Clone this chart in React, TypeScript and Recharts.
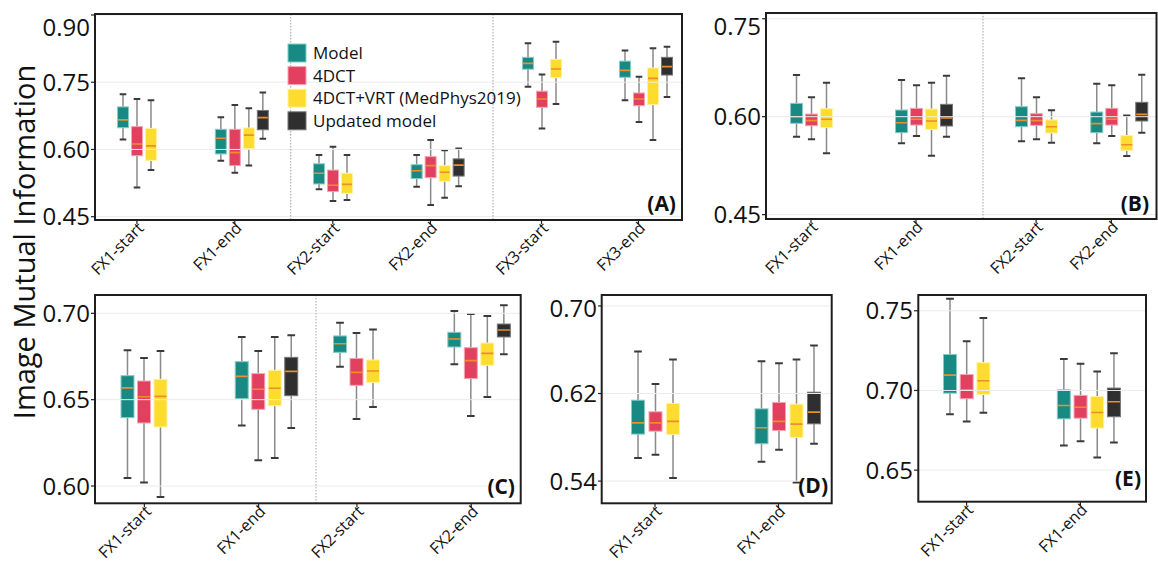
import React from 'react';
import { ComposedChart, Bar, XAxis, YAxis, ReferenceLine } from 'recharts';

type Box = [number, number, number, number, number] | null; // [min, q1, median, q3, max]

const SERIES = ['Model', '4DCT', '4DCT+VRT (MedPhys2019)', 'Updated model'];
const COLORS = ['#198a83', '#e2405f', '#fddc2f', '#2f2f2f'];
const EDGES = ['#86cbc4', '#f6a3b3', '#fff2a0', '#777777'];
const MEDIAN = '#ec8e2a';
const FONT = '"Open Sans", "Noto Sans", sans-serif';

// ---------- Panel A ----------
const A_CATS = ['FX1-start', 'FX1-end', 'FX2-start', 'FX2-end', 'FX3-start', 'FX3-end'];
const A_TICKS = [0.45, 0.6, 0.75, 0.9];
const A_MODEL: Box[] = [
  [0.622, 0.6485, 0.666, 0.695, 0.723],
  [0.575, 0.59, 0.625, 0.645, 0.672],
  [0.511, 0.523, 0.547, 0.568, 0.5875],
  [0.517, 0.535, 0.5525, 0.566, 0.5875],
  [0.74, 0.779, 0.792, 0.8055, 0.837],
  [0.71, 0.761, 0.7765, 0.797, 0.821],
];
const A_4DCT: Box[] = [
  [0.515, 0.586, 0.612, 0.651, 0.7125],
  [0.548, 0.564, 0.593, 0.645, 0.699],
  [0.485, 0.506, 0.52, 0.554, 0.606],
  [0.476, 0.537, 0.564, 0.584, 0.621],
  [0.647, 0.694, 0.7125, 0.73, 0.767],
  [0.661, 0.6976, 0.7125, 0.726, 0.7624],
];
const A_VRT: Box[] = [
  [0.554, 0.5756, 0.608, 0.647, 0.71],
  [0.564, 0.602, 0.632, 0.648, 0.692],
  [0.487, 0.502, 0.522, 0.547, 0.5875],
  [0.492, 0.529, 0.549, 0.5637, 0.598],
  [0.7013, 0.76, 0.7795, 0.801, 0.8405],
  [0.621, 0.7, 0.7586, 0.7817, 0.826],
];
const A_UPD: Box[] = [
  null,
  [0.624, 0.644, 0.671, 0.687, 0.727],
  null,
  [0.518, 0.5406, 0.565, 0.579, 0.6024],
  null,
  [0.717, 0.766, 0.7847, 0.8055, 0.829],
];

// ---------- Panel B ----------
const B_CATS = ['FX1-start', 'FX1-end', 'FX2-start', 'FX2-end'];
const B_TICKS = [0.45, 0.6, 0.75];
const B_MODEL: Box[] = [
  [0.5694, 0.5898, 0.6, 0.6204, 0.6638],
  [0.5592, 0.5755, 0.5908, 0.6102, 0.6561],
  [0.5622, 0.5847, 0.5944, 0.6153, 0.6587],
  [0.5592, 0.5755, 0.5893, 0.6071, 0.6505],
];
const B_4DCT: Box[] = [
  [0.5653, 0.5862, 0.5939, 0.604, 0.6296],
  [0.5704, 0.5872, 0.596, 0.6128, 0.648],
  [0.5653, 0.5867, 0.5939, 0.6046, 0.6296],
  [0.5704, 0.5872, 0.596, 0.6128, 0.648],
];
const B_VRT: Box[] = [
  [0.5439, 0.5832, 0.596, 0.6122, 0.652],
  [0.5403, 0.5806, 0.5934, 0.6117, 0.652],
  [0.56, 0.575, 0.5847, 0.595, 0.6097],
  [0.5398, 0.5485, 0.5571, 0.571, 0.602],
];
const B_UPD: Box[] = [
  null,
  [0.5694, 0.5857, 0.598, 0.6189, 0.6628],
  null,
  [0.5755, 0.5934, 0.6036, 0.622, 0.6643],
];

// ---------- Panel C ----------
const C_CATS = ['FX1-start', 'FX1-end', 'FX2-start', 'FX2-end'];
const C_TICKS = [0.6, 0.65, 0.7];
const C_MODEL: Box[] = [
  [0.6046, 0.6396, 0.6568, 0.6639, 0.6786],
  [0.6351, 0.6506, 0.6635, 0.672, 0.6863],
  [0.6691, 0.6774, 0.6824, 0.6869, 0.6946],
  [0.6705, 0.6805, 0.6851, 0.689, 0.7014],
];
const C_4DCT: Box[] = [
  [0.6021, 0.6365, 0.6517, 0.6608, 0.6741],
  [0.6149, 0.6444, 0.656, 0.6651, 0.6782],
  [0.6388, 0.6583, 0.6658, 0.6739, 0.6886],
  [0.6405, 0.6622, 0.6726, 0.6801, 0.6996],
];
const C_VRT: Box[] = [
  [0.5936, 0.6342, 0.6519, 0.6618, 0.6782],
  [0.6162, 0.6465, 0.6566, 0.667, 0.6863],
  [0.6458, 0.66, 0.6666, 0.673, 0.6907],
  [0.6515, 0.6699, 0.6768, 0.6828, 0.6985],
];
const C_UPD: Box[] = [
  null,
  [0.6336, 0.6523, 0.6664, 0.6745, 0.6873],
  null,
  [0.6763, 0.6863, 0.6903, 0.6938, 0.7046],
];

// ---------- Panel D ----------
const D_CATS = ['FX1-start', 'FX1-end'];
const D_TICKS = [0.54, 0.62, 0.7];
const D_MODEL: Box[] = [
  [0.561, 0.5829, 0.5932, 0.6139, 0.6583],
  [0.5577, 0.5741, 0.5887, 0.606, 0.6495],
];
const D_4DCT: Box[] = [
  [0.564, 0.5856, 0.5932, 0.6033, 0.6288],
  [0.5686, 0.5862, 0.5945, 0.6118, 0.6477],
];
const D_VRT: Box[] = [
  [0.5427, 0.5826, 0.5945, 0.6109, 0.651],
  [0.5388, 0.5799, 0.592, 0.6103, 0.651],
];
const D_UPD: Box[] = [null, [0.5741, 0.5923, 0.603, 0.6212, 0.6638]];

// ---------- Panel E ----------
const E_CATS = ['FX1-start', 'FX1-end'];
const E_TICKS = [0.65, 0.7, 0.75];
const E_MODEL: Box[] = [
  [0.6851, 0.6983, 0.7096, 0.7226, 0.7575],
  [0.6655, 0.6822, 0.6906, 0.7004, 0.7197],
];
const E_4DCT: Box[] = [
  [0.6805, 0.6948, 0.7004, 0.71, 0.7308],
  [0.6682, 0.6826, 0.6895, 0.6969, 0.7167],
];
const E_VRT: Box[] = [
  [0.686, 0.6975, 0.7061, 0.7174, 0.7454],
  [0.6579, 0.6764, 0.6862, 0.6962, 0.7119],
];
const E_UPD: Box[] = [null, [0.6674, 0.6835, 0.6929, 0.7015, 0.7234]];

function buildRows(cats: string[], series: Box[][]) {
  return cats.map((cat, ci) => {
    const row: any = { cat };
    series.forEach((arr, si) => {
      const b = arr[ci];
      row['k' + si] = b ? [b[0], b[4]] : null;
      row['b' + si] = b;
    });
    return row;
  });
}

function makeBoxShape(si: number) {
  return (props: any) => {
    const { x, y, width, height, payload } = props;
    const s: Box = payload ? payload['b' + si] : null;
    if (!s || height == null || isNaN(y)) return <g />;
    const top = Math.min(y, y + height);
    const bottom = Math.max(y, y + height);
    const [mn, q1, md, q3, mx] = s;
    const pv = (v: number) => bottom - ((v - mn) / (mx - mn)) * (bottom - top);
    const cx = x + width / 2;
    const cap = width * 0.55;
    return (
      <g>
        <line x1={cx} x2={cx} y1={pv(mx)} y2={pv(q3)} stroke="#8a8a8a" strokeWidth={1.5} />
        <line x1={cx} x2={cx} y1={pv(q1)} y2={pv(mn)} stroke="#8a8a8a" strokeWidth={1.5} />
        <line x1={cx - cap / 2} x2={cx + cap / 2} y1={pv(mx)} y2={pv(mx)} stroke="#3a3a3a" strokeWidth={2} />
        <line x1={cx - cap / 2} x2={cx + cap / 2} y1={pv(mn)} y2={pv(mn)} stroke="#3a3a3a" strokeWidth={2} />
        <rect x={x + 0.5} y={pv(q3)} width={width - 1} height={pv(q1) - pv(q3)} fill={COLORS[si]} stroke={EDGES[si]} strokeWidth={1} />
        <line x1={x + 1} x2={x + width - 1} y1={pv(md)} y2={pv(md)} stroke={MEDIAN} strokeWidth={1.6} />
      </g>
    );
  };
}

const SHAPES = [0, 1, 2, 3].map((i) => makeBoxShape(i));

function XTick(props: any) {
  const { x, y, payload, shift, fontSize } = props;
  return (
    <g transform={`translate(${x + shift},${y})`}>
      <line x1={0} y1={0} x2={0} y2={4} stroke="#222" strokeWidth={1.2} />
      <text transform="rotate(-45)" x={-1} y={12} textAnchor="end" fontSize={fontSize} fill="#111" fontFamily={FONT}>
        {payload.value}
      </text>
    </g>
  );
}

interface SegProps {
  x0: number;
  x1: number;
  top: number;
  plotH: number;
  yWidth: number;
  rows: any[];
  domain: [number, number];
  ticks: number[];
  padL: number;
  padR: number;
  barSize: number;
  barGap: number;
}

function Segment(p: SegProps) {
  const xH = 110;
  const plotW = p.x1 - p.x0;
  const width = plotW + p.yWidth;
  const height = p.plotH + xH;
  const slot = p.barSize + p.barGap;
  return (
    <div style={{ position: 'absolute', left: p.x0 - p.yWidth, top: p.top }}>
      <ComposedChart
        width={width}
        height={height}
        data={p.rows}
        margin={{ top: 0, right: 0, bottom: 0, left: 0 }}
        barGap={p.barGap}
        barSize={p.barSize}
      >
        <XAxis
          dataKey="cat"
          type="category"
          height={xH}
          padding={{ left: p.padL, right: p.padR }}
          axisLine={false}
          tickLine={false}
          tickSize={0}
          tickMargin={0}
          interval={0}
          tick={<XTick shift={-slot / 2} fontSize={16} />}
        />
        <YAxis
          type="number"
          domain={p.domain}
          ticks={p.ticks}
          allowDataOverflow
          width={p.yWidth || 1}
          hide={p.yWidth === 0}
          axisLine={false}
          tickSize={4}
          tickMargin={1}
          tickLine={{ stroke: '#222', strokeWidth: 1.2 }}
          tick={{ fontSize: 24, fill: '#111', fontFamily: FONT }}
          tickFormatter={(v: number) => v.toFixed(2)}
        />
        {p.ticks.map((t) => (
          <ReferenceLine key={t} y={t} stroke="#ebebeb" strokeWidth={1} />
        ))}
        {SERIES.map((name, si) => (
          <Bar
            key={name}
            name={name}
            dataKey={'k' + si}
            fill={COLORS[si]}
            barSize={p.barSize}
            isAnimationActive={false}
            shape={SHAPES[si]}
          />
        ))}
      </ComposedChart>
    </div>
  );
}

interface SegDef { x0: number; x1: number; from: number; to: number; padL: number; padR: number }
interface PanelDef {
  label: string;
  frame: { x: number; y: number; w: number; h: number };
  cats: string[];
  series: Box[][];
  domain: [number, number];
  ticks: number[];
  barSize: number;
  barGap: number;
  segs: SegDef[];
  labelPos: { x: number; y: number };
}

const PANELS: PanelDef[] = [
  {
    label: '(A)',
    frame: { x: 95, y: 14, w: 587, h: 206 },
    cats: A_CATS,
    series: [A_MODEL, A_4DCT, A_VRT, A_UPD],
    domain: [0.4426, 0.9022],
    ticks: A_TICKS,
    barSize: 12,
    barGap: 2,
    segs: [
      { x0: 95, x1: 290.7, from: 0, to: 2, padL: 0, padR: 0 },
      { x0: 290.7, x1: 493, from: 2, to: 4, padL: 0, padR: 7 },
      { x0: 493, x1: 682, from: 4, to: 6, padL: 7, padR: -12 },
    ],
    labelPos: { x: 676, y: 211 },
  },
  {
    label: '(B)',
    frame: { x: 766, y: 13, w: 390.5, h: 206 },
    cats: B_CATS,
    series: [B_MODEL, B_4DCT, B_VRT, B_UPD],
    domain: [0.4433, 0.7588],
    ticks: B_TICKS,
    barSize: 13,
    barGap: 2,
    segs: [
      { x0: 766, x1: 983, from: 0, to: 2, padL: 0, padR: 7 },
      { x0: 983, x1: 1156.5, from: 2, to: 4, padL: 23, padR: 0 },
    ],
    labelPos: { x: 1149, y: 211 },
  },
  {
    label: '(C)',
    frame: { x: 95, y: 295, w: 425.7, h: 208.3 },
    cats: C_CATS,
    series: [C_MODEL, C_4DCT, C_VRT, C_UPD],
    domain: [0.59, 0.7106],
    ticks: C_TICKS,
    barSize: 14,
    barGap: 2.5,
    segs: [
      { x0: 95, x1: 316, from: 0, to: 2, padL: 0.5, padR: -8 },
      { x0: 316, x1: 520.7, from: 2, to: 4, padL: -8, padR: -16 },
    ],
    labelPos: { x: 515, y: 494 },
  },
  {
    label: '(D)',
    frame: { x: 601.7, y: 295, w: 230, h: 208.3 },
    cats: D_CATS,
    series: [D_MODEL, D_4DCT, D_VRT, D_UPD],
    domain: [0.5197, 0.71],
    ticks: D_TICKS,
    barSize: 14,
    barGap: 3.5,
    segs: [{ x0: 601.7, x1: 831.7, from: 0, to: 2, padL: 0, padR: -17 }],
    labelPos: { x: 828, y: 493 },
  },
  {
    label: '(E)',
    frame: { x: 918.3, y: 295, w: 227.7, h: 206.7 },
    cats: E_CATS,
    series: [E_MODEL, E_4DCT, E_VRT, E_UPD],
    domain: [0.6302, 0.7599],
    ticks: E_TICKS,
    barSize: 14,
    barGap: 2.7,
    segs: [{ x0: 918.3, x1: 1146, from: 0, to: 2, padL: 0, padR: 0 }],
    labelPos: { x: 1141, y: 486 },
  },
];

const LEGEND = { x: 288, y: 53, step: 22.6, size: 18, fontSize: 17 };

export default function App() {
  return (
    <div style={{ position: 'absolute', left: 0, top: 0, width: 1158, height: 566, background: '#fff', overflow: 'hidden', fontFamily: FONT }}>
      <style>{`.recharts-surface{overflow:visible}`}</style>
      {PANELS.map((pn) => {
        const rows = buildRows(pn.cats, pn.series);
        return pn.segs.map((sg, k) => (
          <Segment
            key={pn.label + k}
            x0={sg.x0}
            x1={sg.x1}
            top={pn.frame.y}
            plotH={pn.frame.h}
            yWidth={k === 0 ? 62 : 0}
            rows={rows.slice(sg.from, sg.to)}
            domain={pn.domain}
            ticks={pn.ticks}
            padL={sg.padL}
            padR={sg.padR}
            barSize={pn.barSize}
            barGap={pn.barGap}
          />
        ));
      })}
      <svg width={1158} height={566} style={{ position: 'absolute', left: 0, top: 0, pointerEvents: 'none' }}>
        {PANELS.map((pn) => (
          <g key={pn.label}>
            {pn.segs.slice(1).map((sg) => (
              <line key={sg.x0} x1={sg.x0} x2={sg.x0} y1={pn.frame.y} y2={pn.frame.y + pn.frame.h} stroke="#a0a0a0" strokeWidth={1} strokeDasharray="1.5 1.5" />
            ))}
            <rect x={pn.frame.x} y={pn.frame.y} width={pn.frame.w} height={pn.frame.h} fill="none" stroke="#1e1e1e" strokeWidth={2} />
            <text x={pn.labelPos.x} y={pn.labelPos.y} textAnchor="end" fontSize={21} fontWeight="bold" fill="#111" fontFamily={FONT}>
              {pn.label}
            </text>
          </g>
        ))}
        {SERIES.map((name, i) => (
          <g key={name}>
            <rect x={LEGEND.x} y={LEGEND.y + i * LEGEND.step - LEGEND.size / 2} width={LEGEND.size} height={LEGEND.size} fill={COLORS[i]} stroke={EDGES[i]} strokeWidth={1} />
            <text x={LEGEND.x + LEGEND.size + 7} y={LEGEND.y + i * LEGEND.step + 6} fontSize={LEGEND.fontSize} fill="#111" fontFamily={FONT}>
              {name}
            </text>
          </g>
        ))}
        <text transform="translate(35,242) rotate(-90)" textAnchor="middle" fontSize={29} fill="#111" fontFamily={FONT}>
          Image Mutual Information
        </text>
      </svg>
    </div>
  );
}
